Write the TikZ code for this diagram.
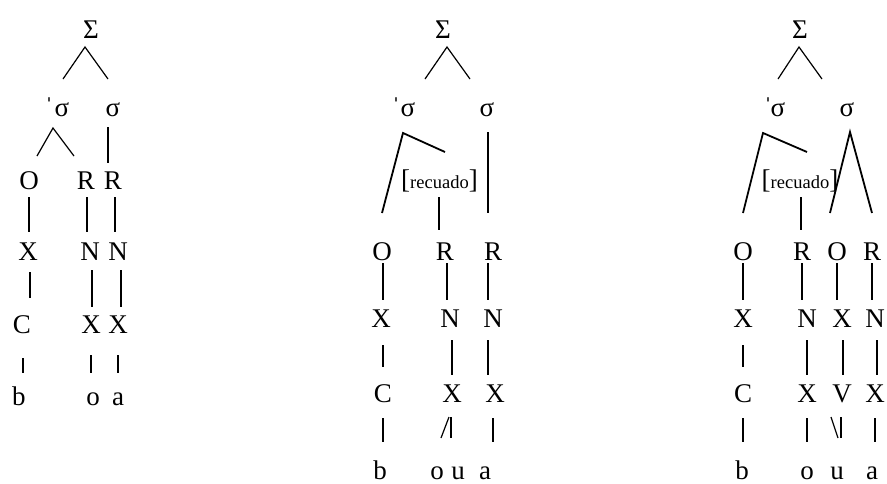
\documentclass[tikz,border=0pt]{standalone}
\usepackage{fontspec}
\setmainfont{Liberation Serif}
\usetikzlibrary{calc}
\newcommand\bigf{\fontsize{27}{27}\selectfont}
\newcommand\smallf{\fontsize{18.5}{18.5}\selectfont}
\newcommand\seg[7][]{\draw[ln,#1] ($(#2.base)+(#3,#4)$) -- ($(#5.base)+(#6,#7)$);}
\tikzset{
  t/.style={font=\bigf, inner sep=0pt, outer sep=0pt, anchor=base},
  ln/.style={line width=1.2pt, black},
  thk/.style={line width=1.8pt}
}
\begin{document}
\begin{tikzpicture}[x=1pt,y=-1pt]
\useasboundingbox (0,0) rectangle (887,483);
% ---------------- Tree 1
\node[t] (S1) at (91,38) {Σ};
\node[t] (st1) at (49,116) {ˈ};
\node[t] (sA1) at (62,116) {σ};
\node[t] (sB1) at (113,116) {σ};
\node[t] (O1) at (29,189) {O};
\node[t] (R1) at (86,189) {R};
\node[t] (R1b) at (113,189) {R};
\node[t] (X1) at (28,260) {X};
\node[t] (N1) at (90,260) {N};
\node[t] (N1b) at (118,260) {N};
\node[t] (C1) at (22,333) {C};
\node[t] (X1b) at (91,333) {X};
\node[t] (X1c) at (118,333) {X};
\node[t] (b1) at (19,405) {b};
\node[t] (o1) at (93,405) {o};
\node[t] (a1) at (118,405) {a};
\draw[ln] ($(sA1.base)+(1,-37)$) -- ($(S1.base)+(-6,9)$) -- ($(sB1.base)+(-5,-37)$);
\draw[ln] ($(O1.base)+(8,-33)$) -- ($(sA1.base)+(-9,12)$) -- ($(R1.base)+(-12,-33)$);
\seg{sB1}{-5}{11}{R1b}{-5}{-26}
\seg{O1}{0}{8}{X1}{1}{-28}
\seg{R1}{1}{8}{N1}{-3}{-28}
\seg{R1b}{2}{8}{N1b}{-3}{-28}
\seg{X1}{2}{12}{C1}{8}{-35}
\seg{N1}{2}{10}{X1b}{1}{-26}
\seg{N1b}{3}{10}{X1c}{3}{-26}
\seg{C1}{1}{25}{b1}{4}{-32}
\seg{X1b}{0}{22}{o1}{-2}{-32}
\seg{X1c}{0}{22}{a1}{0}{-32}
% ---------------- Tree 2
\node[t] (S2) at (443,38) {Σ};
\node[t] (st2) at (396,116) {ˈ};
\node[t] (sA2) at (408,116) {σ};
\node[t] (sB2) at (487,116) {σ};
\node[t] (rec2) at (439.5,188) {[{\smallf recuado}]};
\node[t] (O2) at (382,260) {O};
\node[t] (R2) at (445,260) {R};
\node[t] (R2b) at (493,260) {R};
\node[t] (X2) at (381,327) {X};
\node[t] (N2) at (450,327) {N};
\node[t] (N2b) at (493,327) {N};
\node[t] (C2) at (383,402) {C};
\node[t] (X2b) at (452,402) {X};
\node[t] (X2c) at (495,402) {X};
\node[t] (b2) at (380,479) {b};
\node[t] (o2) at (437,479) {o};
\node[t] (u2) at (458,479) {u};
\node[t] (a2) at (485,479) {a};
\draw[ln] ($(sA2.base)+(17,-37)$) -- ($(S2.base)+(4,9)$) -- ($(sB2.base)+(-17,-37)$);
\draw[ln,thk] ($(O2.base)+(0,-47)$) -- ($(sA2.base)+(-5,17)$) -- ($(rec2.base)+(5.5,-36)$);
\seg[thk]{sB2}{1}{16}{R2b}{-5}{-47}
\seg{rec2}{-0.5}{9}{R2}{-6}{-30}
\seg{O2}{1}{3}{X2}{2}{-27}
\seg{R2}{2}{3}{N2}{-3}{-27}
\seg{R2b}{-5}{3}{N2b}{-5}{-27}
\seg{X2}{2}{18}{C2}{0}{-35}
\seg{N2}{2}{13}{X2b}{0}{-27}
\seg{N2b}{-5}{13}{X2c}{-7}{-27}
\seg{C2}{0}{16}{b2}{3}{-37}
\seg{X2b}{-3}{15}{o2}{4}{-41}
\seg[thk]{X2b}{-1}{15}{u2}{-7}{-41}
\seg{X2c}{-2}{16}{a2}{8}{-37}
% ---------------- Tree 3
\node[t] (S3) at (800,38) {Σ};
\node[t] (st3) at (768,116) {ˈ};
\node[t] (sA3) at (778,116) {σ};
\node[t] (sB3) at (847,116) {σ};
\node[t] (rec3) at (800,188) {[{\smallf recuado}]};
\node[t] (O3) at (743,260) {O};
\node[t] (R3) at (802,260) {R};
\node[t] (O3b) at (837,260) {O};
\node[t] (R3b) at (872,260) {R};
\node[t] (X3) at (743,327) {X};
\node[t] (N3) at (807,327) {N};
\node[t] (X3b) at (842,327) {X};
\node[t] (N3b) at (875,327) {N};
\node[t] (C3) at (743,402) {C};
\node[t] (X3c) at (807,402) {X};
\node[t] (V3) at (842,402) {V};
\node[t] (X3d) at (875,402) {X};
\node[t] (b3) at (742,479) {b};
\node[t] (o3) at (807,479) {o};
\node[t] (u3) at (837,479) {u};
\node[t] (a3) at (872,479) {a};
\draw[ln] ($(sA3.base)+(0,-37)$) -- ($(S3.base)+(-1,9)$) -- ($(sB3.base)+(-25,-37)$);
\draw[ln,thk] ($(O3.base)+(0,-47)$) -- ($(sA3.base)+(-15,17)$) -- ($(rec3.base)+(7,-36)$);
\draw[ln,thk] ($(O3b.base)+(-7,-47)$) -- ($(sB3.base)+(3,16)$) -- ($(R3b.base)+(0,-47)$);
\seg{rec3}{1}{9}{R3}{-1}{-30}
\seg{O3}{0}{3}{X3}{0}{-27}
\seg{R3}{0}{3}{N3}{-5}{-27}
\seg{O3b}{0}{3}{X3b}{-5}{-27}
\seg{R3b}{0}{3}{N3b}{-3}{-27}
\seg{X3}{0}{18}{C3}{0}{-35}
\seg{N3}{0}{13}{X3c}{0}{-27}
\seg{X3b}{1}{13}{V3}{1}{-27}
\seg{N3b}{2}{13}{X3d}{2}{-27}
\seg{C3}{0}{16}{b3}{1}{-37}
\seg{X3c}{0}{16}{o3}{0}{-37}
\seg{V3}{-11}{15}{u3}{1}{-41}
\seg[thk]{V3}{-1}{15}{u3}{4}{-41}
\seg{X3d}{0}{16}{a3}{3}{-37}
\end{tikzpicture}
\end{document}
